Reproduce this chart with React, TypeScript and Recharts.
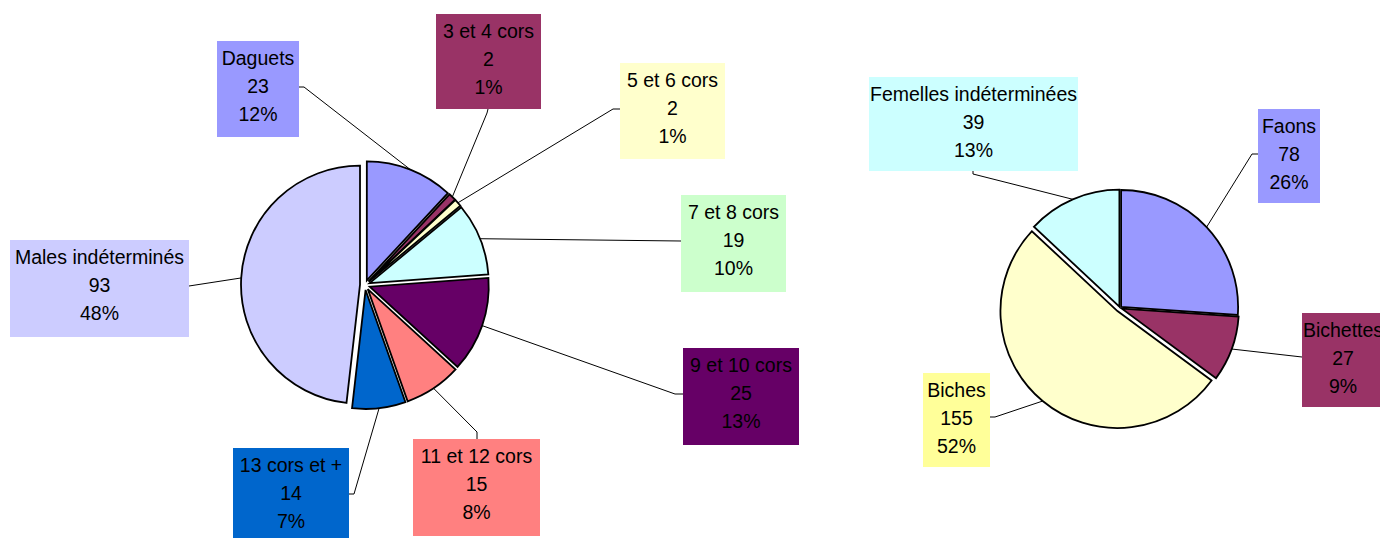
import React from 'react';
import { PieChart, Pie, Cell, Sector } from 'recharts';

// Males (left pie), clockwise from 12 o'clock
const maleCategories = [
  'Daguets',
  '3 et 4 cors',
  '5 et 6 cors',
  '7 et 8 cors',
  '9 et 10 cors',
  '11 et 12 cors',
  '13 cors et +',
  'Males indéterminés',
];
const maleValues = [23, 2, 2, 19, 25, 15, 14, 93];

// Females (right pie), clockwise from 12 o'clock
const femaleCategories = ['Faons', 'Bichettes', 'Biches', 'Femelles indéterminées'];
const femaleValues = [78, 27, 155, 39];

const maleData = maleCategories.map((name, i) => ({ name, value: maleValues[i] }));
const femaleData = femaleCategories.map((name, i) => ({ name, value: femaleValues[i] }));

const maleColors = ['#9999FF', '#993366', '#FFFFCC', '#CCFFFF', '#660066', '#FF8080', '#0066CC', '#CCCCFF'];
const maleBoxColors = ['#9999FF', '#993366', '#FFFFCC', '#CCFFCC', '#660066', '#FF8080', '#0066CC', '#CCCCFF'];
const femaleColors = ['#9999FF', '#993366', '#FFFFCC', '#CCFFFF'];
const femaleBoxColors = ['#9999FF', '#993366', '#FFFF99', '#CCFFFF'];

// label box placement: box [x, y, w, h], anchor on box, bend point, slice explosion
type LabelLayout = { box: number[]; anchor: number[]; bend?: number[]; explode: number };

const maleLayout: LabelLayout[] = [
  { box: [217, 41, 82, 96], anchor: [299, 87], bend: [304, 87], explode: 5 },
  { box: [436, 14, 105, 95], anchor: [488, 109], bend: [487, 113], explode: 5 },
  { box: [620, 63, 105, 96], anchor: [620, 109], bend: [613, 109], explode: 5 },
  { box: [681, 195, 105, 97], anchor: [681, 241], explode: 5 },
  { box: [683, 348, 116, 97], anchor: [683, 394], bend: [675, 394], explode: 5 },
  { box: [413, 439, 127, 97], anchor: [477, 439], bend: [477, 432], explode: 5 },
  { box: [233, 448, 116, 96], anchor: [349, 494], bend: [354, 494], explode: 5 },
  { box: [10, 240, 179, 97], anchor: [189, 286], explode: 5 },
];

const femaleLayout: LabelLayout[] = [
  { box: [1258, 109, 62, 94], anchor: [1258, 154], bend: [1252, 154], explode: 1.5 },
  { box: [1302, 313, 82, 94], anchor: [1302, 357], explode: 2 },
  { box: [923, 373, 67, 94], anchor: [990, 417], bend: [995, 417], explode: 4 },
  { box: [869, 77, 209, 94], anchor: [973, 171], bend: [973, 174], explode: 1.5 },
];

const RAD = Math.PI / 180;
const FONT = '"Liberation Sans", Arial, sans-serif';

function findIndex(categories: string[], props: any) {
  const name = props?.payload?.name ?? props?.name;
  const i = categories.indexOf(name);
  return i >= 0 ? i : props.index ?? 0;
}

function makeShape(categories: string[], layout: LabelLayout[]) {
  return (props: any) => {
    const i = findIndex(categories, props);
    const off = layout[i].explode;
    const dx = off * Math.cos(-props.midAngle * RAD);
    const dy = off * Math.sin(-props.midAngle * RAD);
    return <Sector {...props} cx={props.cx + dx} cy={props.cy + dy} />;
  };
}

function makeLabel(categories: string[], layout: LabelLayout[], boxColors: string[]) {
  return (props: any) => {
    const { cx, cy, midAngle, outerRadius, percent, value } = props;
    const i = findIndex(categories, props);
    const L = layout[i];
    const r = outerRadius + L.explode;
    const ex = cx + r * Math.cos(-midAngle * RAD);
    const ey = cy + r * Math.sin(-midAngle * RAD);
    const [bx, by, bw, bh] = L.box;
    const pts = [L.anchor, L.bend ?? L.anchor, [ex, ey]].map((p) => p.join(',')).join(' ');
    const lines = [categories[i], String(value), `${Math.round(percent * 100)}%`];
    return (
      <g key={`lbl-${categories[i]}`}>
        <polyline points={pts} fill="none" stroke="#000" strokeWidth={1} />
        <rect x={bx} y={by} width={bw} height={bh} fill={boxColors[i]} />
        {lines.map((t, k) => (
          <text
            key={k}
            x={bx + bw / 2}
            y={by + 24 + 28 * k}
            textAnchor="middle"
            fontSize={19.5}
            fontFamily={FONT}
            fill="#000"
          >
            {t}
          </text>
        ))}
      </g>
    );
  };
}

export default function App() {
  const maleShape = makeShape(maleCategories, maleLayout);
  const femaleShape = makeShape(femaleCategories, femaleLayout);
  return (
    <div style={{ position: 'absolute', left: 0, top: 0, width: 1380, height: 538, background: '#fff' }}>
      <PieChart width={1380} height={538} margin={{ top: 0, right: 0, bottom: 0, left: 0 }}>
        <Pie
          data={maleData}
          dataKey="value"
          nameKey="name"
          cx={365}
          cy={285}
          outerRadius={119}
          startAngle={90}
          endAngle={-270}
          stroke="#000"
          strokeWidth={1.8}
          shape={maleShape}
          inactiveShape={maleShape}
          activeShape={maleShape}
          label={makeLabel(maleCategories, maleLayout, maleBoxColors)}
          labelLine={false}
          isAnimationActive={false}
        >
          {maleData.map((d, i) => (
            <Cell key={d.name} fill={maleColors[i]} />
          ))}
        </Pie>
        <Pie
          data={femaleData}
          dataKey="value"
          nameKey="name"
          cx={1120}
          cy={308}
          outerRadius={117}
          startAngle={90}
          endAngle={-270}
          stroke="#000"
          strokeWidth={1.8}
          shape={femaleShape}
          inactiveShape={femaleShape}
          activeShape={femaleShape}
          label={makeLabel(femaleCategories, femaleLayout, femaleBoxColors)}
          labelLine={false}
          isAnimationActive={false}
        >
          {femaleData.map((d, i) => (
            <Cell key={d.name} fill={femaleColors[i]} />
          ))}
        </Pie>
      </PieChart>
    </div>
  );
}
